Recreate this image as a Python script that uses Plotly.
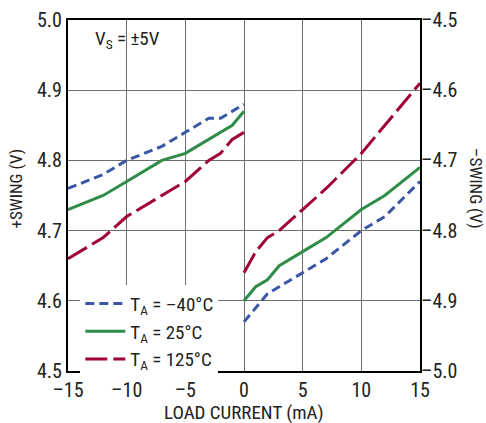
import plotly.graph_objects as go

# Data
x_neg = [-15, -12, -10, -7, -5, -3, -2, -1, 0]
x_pos = [0, 1, 2, 3, 5, 7, 10, 12, 15]

# +SWING (left axis), negative load current
pos_m40 = [4.76, 4.78, 4.80, 4.82, 4.84, 4.86, 4.86, 4.87, 4.88]
pos_25 = [4.73, 4.75, 4.77, 4.80, 4.81, 4.83, 4.84, 4.85, 4.87]
pos_125 = [4.66, 4.69, 4.72, 4.75, 4.77, 4.80, 4.81, 4.83, 4.84]

# -SWING (right axis), positive load current
neg_m40 = [-4.93, -4.91, -4.89, -4.88, -4.86, -4.84, -4.80, -4.78, -4.73]
neg_25 = [-4.90, -4.88, -4.87, -4.85, -4.83, -4.81, -4.77, -4.75, -4.71]
neg_125 = [-4.86, -4.83, -4.81, -4.80, -4.77, -4.74, -4.69, -4.65, -4.59]

series_names = ["T<sub>A</sub> = –40°C", "T<sub>A</sub> = 25°C", "T<sub>A</sub> = 125°C"]

x_ticks = [-15, -10, -5, 0, 5, 10, 15]
x_ticktext = ["–15", "–10", "–5", "0", "5", "10", "15"]
y_ticks = [4.5, 4.6, 4.7, 4.8, 4.9, 5.0]
y_ticktext = ["4.5", "4.6", "4.7", "4.8", "4.9", "5.0"]
y2_ticks = [-5.0, -4.9, -4.8, -4.7, -4.6, -4.5]
y2_ticktext = ["–5.0", "–4.9", "–4.8", "–4.7", "–4.6", "–4.5"]

colors = ["#3a57a7", "#2f8c47", "#a1003b"]
dashes = ["9px,5px", "solid", "22px,6px"]

FONT = "Roboto Condensed, Liberation Sans Narrow, Arial Narrow, Liberation Sans, sans-serif"
TXT = "#222222"

fig = go.Figure()
pos_sets = [pos_m40, pos_25, pos_125]
neg_sets = [neg_m40, neg_25, neg_125]
for i in range(3):
    fig.add_trace(go.Scatter(
        x=x_neg, y=pos_sets[i], mode="lines", name=series_names[i],
        legendgroup=str(i), showlegend=True,
        line=dict(color=colors[i], width=3, dash=dashes[i]), yaxis="y"))
    fig.add_trace(go.Scatter(
        x=x_pos, y=neg_sets[i], mode="lines", name=series_names[i],
        legendgroup=str(i), showlegend=False,
        line=dict(color=colors[i], width=3, dash=dashes[i]), yaxis="y2"))

grid = "#6e6e6e"
fig.update_layout(
    template="none",
    width=486, height=423,
    margin=dict(l=68, r=66, t=20, b=52, autoexpand=False),
    paper_bgcolor="white", plot_bgcolor="white",
    font=dict(family=FONT, size=18, color=TXT),
    showlegend=True,
    legend=dict(x=0.035, y=0.246, xanchor="left", yanchor="top",
                bgcolor="white", font=dict(size=19, color=TXT),
                tracegroupgap=0, itemwidth=40, borderwidth=0),
    xaxis=dict(range=[-15, 15], tickvals=x_ticks, ticktext=x_ticktext,
               showgrid=True, gridcolor=grid, gridwidth=1, automargin=False,
               showline=True, linecolor="black", linewidth=2, mirror=True,
               ticks="", zeroline=False, tickfont=dict(size=20)),
    yaxis=dict(range=[4.5, 5.0], tickvals=y_ticks, ticktext=y_ticktext,
               showgrid=True, gridcolor=grid, gridwidth=1, automargin=False,
               showline=True, linecolor="black", linewidth=2, mirror=True,
               ticks="", zeroline=False, tickfont=dict(size=20)),
    yaxis2=dict(range=[-5.0, -4.5], tickvals=y2_ticks, ticktext=y2_ticktext,
                overlaying="y", side="right", showgrid=False, automargin=False,
                showline=False, ticks="", zeroline=False, tickfont=dict(size=20)),
)

# white patch behind the V_S label
fig.add_shape(type="rect", xref="paper", yref="paper", x0=0.01, x1=0.30,
              y0=0.895, y1=0.995, fillcolor="white", line=dict(width=0),
              layer="between")

fig.add_annotation(text="V<sub>S</sub> = ±5V", xref="paper", yref="paper",
                   x=0.17, y=0.945, xanchor="center", yanchor="middle",
                   showarrow=False, font=dict(size=19, color=TXT))
fig.add_annotation(text="+SWING (V)", xref="paper", yref="paper",
                   x=-0.145, y=0.52, xanchor="center", yanchor="middle",
                   textangle=-90, showarrow=False, font=dict(size=17, color=TXT))
fig.add_annotation(text="–SWING (V)", xref="paper", yref="paper",
                   x=1.158, y=0.52, xanchor="center", yanchor="middle",
                   textangle=90, showarrow=False, font=dict(size=17, color=TXT))
fig.add_annotation(text="LOAD CURRENT (mA)", xref="paper", yref="paper",
                   x=0.5, y=-0.117, xanchor="center", yanchor="middle",
                   showarrow=False, font=dict(size=19, color=TXT))

fig.write_html(
    "out.html",
    config={"displayModeBar": False},
    post_script="document.body.style.margin='0';document.body.style.overflow='hidden';",
)
